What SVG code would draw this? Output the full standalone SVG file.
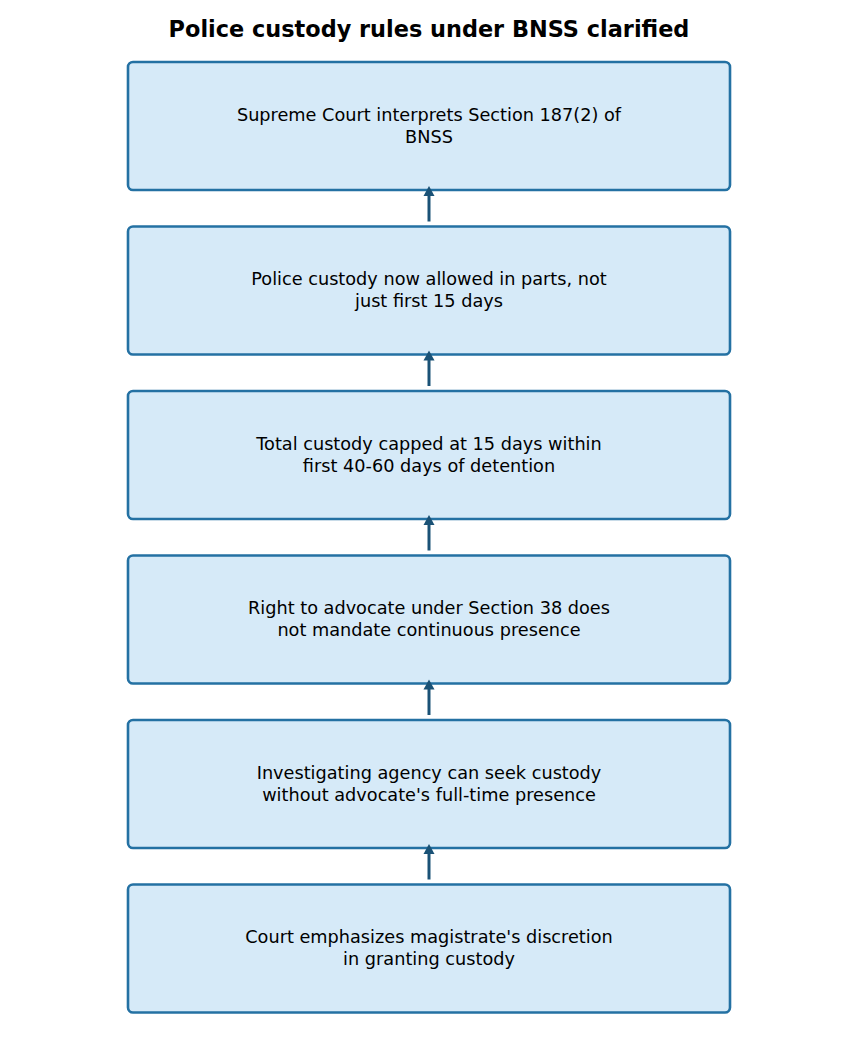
<svg xmlns="http://www.w3.org/2000/svg" width="858" height="1053" viewBox="0 0 858 1053">
  <style>
    .box { fill: #D6EAF8; stroke: #2471A3; stroke-width: 2.6; }
    .label { font-family: "DejaVu Sans", sans-serif; font-size: 17.7px; fill: #000000; text-anchor: middle; }
    .title { font-family: "DejaVu Sans", sans-serif; font-size: 22.4px; font-weight: bold; fill: #000000; text-anchor: middle; }
    .conn { stroke: #1A5276; stroke-width: 3; fill: none; }
    .head { fill: #1A5276; }
  </style>
  <rect width="858" height="1053" fill="#ffffff"/>
  <text class="title" x="429" y="37">Police custody rules under BNSS clarified</text>

  <g id="node1">
    <rect class="box" x="128" y="62" width="602" height="128" rx="5" ry="5"/>
    <text class="label" x="429" y="121">Supreme Court interprets Section 187(2) of</text>
    <text class="label" x="429" y="143">BNSS</text>
  </g>
  <g id="node2">
    <rect class="box" x="128" y="226.5" width="602" height="128" rx="5" ry="5"/>
    <text class="label" x="429" y="285">Police custody now allowed in parts, not</text>
    <text class="label" x="429" y="307">just first 15 days</text>
  </g>
  <g id="node3">
    <rect class="box" x="128" y="391" width="602" height="128" rx="5" ry="5"/>
    <text class="label" x="429" y="449.5">Total custody capped at 15 days within</text>
    <text class="label" x="429" y="471.5">first 40-60 days of detention</text>
  </g>
  <g id="node4">
    <rect class="box" x="128" y="555.5" width="602" height="128" rx="5" ry="5"/>
    <text class="label" x="429" y="614">Right to advocate under Section 38 does</text>
    <text class="label" x="429" y="636">not mandate continuous presence</text>
  </g>
  <g id="node5">
    <rect class="box" x="128" y="720" width="602" height="128" rx="5" ry="5"/>
    <text class="label" x="429" y="778.5">Investigating agency can seek custody</text>
    <text class="label" x="429" y="800.5">without advocate's full-time presence</text>
  </g>
  <g id="node6">
    <rect class="box" x="128" y="884.5" width="602" height="128" rx="5" ry="5"/>
    <text class="label" x="429" y="943">Court emphasizes magistrate's discretion</text>
    <text class="label" x="429" y="965">in granting custody</text>
  </g>

  <g id="connectors">
    <line class="conn" x1="429" y1="221.5" x2="429" y2="194"/>
    <polygon class="head" points="429,186 423.5,196 434.5,196"/>
    <line class="conn" x1="429" y1="386" x2="429" y2="358.5"/>
    <polygon class="head" points="429,350.5 423.5,360.5 434.5,360.5"/>
    <line class="conn" x1="429" y1="550.5" x2="429" y2="523"/>
    <polygon class="head" points="429,515 423.5,525 434.5,525"/>
    <line class="conn" x1="429" y1="715" x2="429" y2="687.5"/>
    <polygon class="head" points="429,679.5 423.5,689.5 434.5,689.5"/>
    <line class="conn" x1="429" y1="879.5" x2="429" y2="852"/>
    <polygon class="head" points="429,844 423.5,854 434.5,854"/>
  </g>
</svg>
